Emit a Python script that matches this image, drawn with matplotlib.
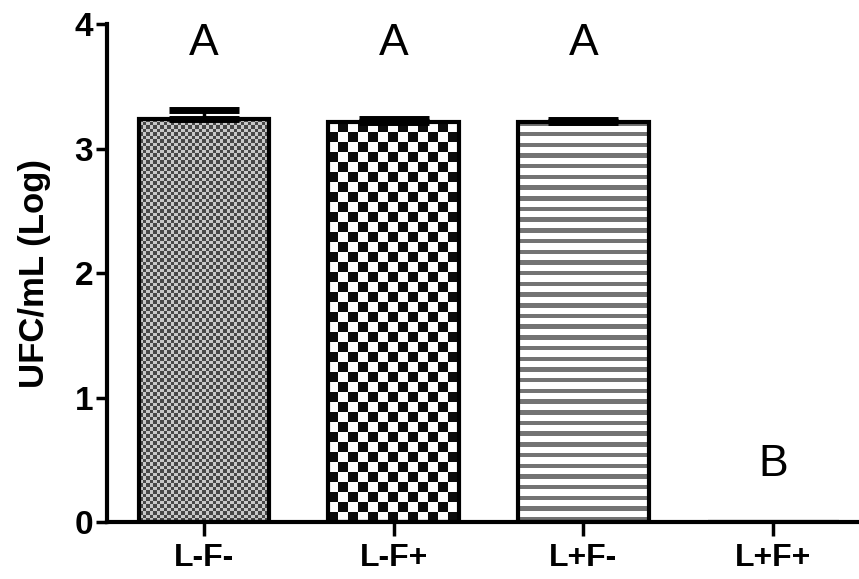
import matplotlib

matplotlib.use('Agg')

import numpy as np

import matplotlib.pyplot as plt


# data
groups = ['L-F-', 'L-F+', 'L+F-', 'L+F+']
ufc_log = [3.24, 3.21, 3.21, 0.0]
ufc_err = [0.07, 0.03, 0.02, 0.0]
letters = ['A', 'A', 'A', 'B']
letter_y = [3.84, 3.84, 3.84, 0.46]

y_ticks = [0, 1, 2, 3, 4]

plt.rcParams['font.family'] = ['Liberation Sans', 'DejaVu Sans']

DPI = 100
fig = plt.figure(figsize=(8.59, 5.79), dpi=DPI)
ax = fig.add_axes([0.1246, 0.0984, 0.8754, 0.8601])

XLIM = (-0.511, 3.453)
YLIM = (0, 4)
ax.set_xlim(*XLIM)
ax.set_ylim(*YLIM)

x = np.arange(len(groups))
bars = ax.bar(x, ufc_log, width=0.69, facecolor='none', edgecolor='black',
              linewidth=3, zorder=3)

# upward-only error bars, GraphPad style
ax.errorbar(x[:3], ufc_log[:3], yerr=[[0, 0, 0], ufc_err[:3]], fmt='none',
            ecolor='black', elinewidth=2.5, capsize=25, capthick=5, zorder=4)


# fill patterns (checkerboards / stripes) clipped to each bar
ax_w_px = 0.8754 * 8.59 * DPI
ax_h_px = 0.8601 * 5.79 * DPI
px_x = ax_w_px / (XLIM[1] - XLIM[0])
px_y = ax_h_px / (YLIM[1] - YLIM[0])


def pattern(kind, nx, ny):
    yy, xx = np.indices((ny, nx))
    if kind == 'fine':
        cell = 3.5
        chk = ((xx // cell).astype(int) + (yy // cell).astype(int)) % 2
        return np.where(chk == 0, 0.28, 0.78)
    if kind == 'checker':
        cell = 10
        chk = ((xx // cell).astype(int) + (yy // cell).astype(int)) % 2
        return np.where(chk == 0, 0.05, 1.0)
    # horizontal stripes
    per = 10.7
    return np.where((yy % per) < 4.5, 0.45, 1.0)


kinds = ['fine', 'checker', 'stripes', None]
for patch, kind in zip(bars.patches, kinds):
    if kind is None or patch.get_height() <= 0:
        continue
    bx, by = patch.get_x(), patch.get_y()
    bw, bh = patch.get_width(), patch.get_height()
    nx = int(round(bw * px_x))
    ny = int(round(bh * px_y))
    img = pattern(kind, nx, ny)
    im = ax.imshow(img, cmap='gray', vmin=0, vmax=1, extent=(bx, bx + bw, by, by + bh),
                   origin='lower', aspect='auto', interpolation='nearest', zorder=2)
    im.set_clip_path(patch)

ax.set_xlim(*XLIM)
ax.set_ylim(*YLIM)

# significance letters
for xi, lt, ly in zip(x, letters, letter_y):
    ax.text(xi, ly, lt, ha='center', va='center', fontsize=32)

ax.set_xticks(x)
ax.set_xticklabels(groups, fontsize=23, fontweight='bold')
ax.set_yticks(y_ticks)
ax.set_yticklabels([str(t) for t in y_ticks], fontsize=24, fontweight='bold')
ax.tick_params(axis='x', length=10, width=2.5, pad=5)
ax.tick_params(axis='y', length=8, width=2.5, pad=2)
ax.set_ylabel('UFC/mL (Log)', fontsize=25, fontweight='bold', labelpad=17)

for s in ['top', 'right']:
    ax.spines[s].set_visible(False)
for s in ['left', 'bottom']:
    ax.spines[s].set_linewidth(3)

fig.savefig('out.png', dpi=DPI)
